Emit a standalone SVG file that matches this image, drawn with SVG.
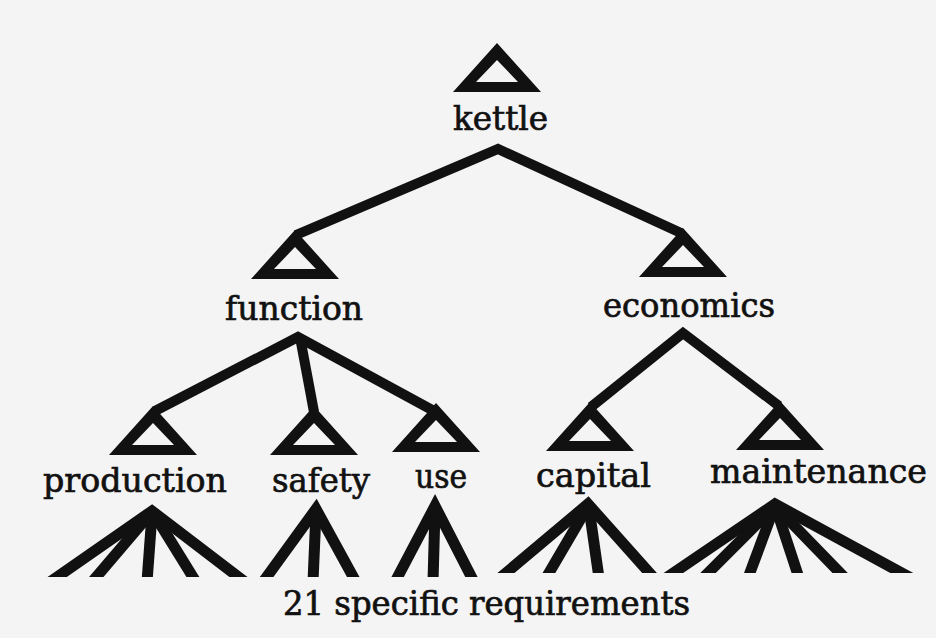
<svg xmlns="http://www.w3.org/2000/svg" xmlns:xlink="http://www.w3.org/1999/xlink" width="936" height="638" viewBox="0 0 936 638">
  <style>
    .bg { fill: #f4f4f4; }
    .tri { fill: #111; fill-rule: evenodd; }
    .lbl { font-family: "DejaVu Serif", "Liberation Serif", serif; font-size: 33px; fill: #111; stroke: #111; stroke-width: 0.7; text-anchor: start; }
    .edge { fill: none; stroke: #111; stroke-width: 10; stroke-linejoin: miter; stroke-miterlimit: 10; stroke-linecap: butt; }
    .leg { fill: none; stroke: #111; stroke-width: 11; stroke-linejoin: miter; stroke-miterlimit: 20; stroke-linecap: butt; }
  </style>
  <defs>
    <path id="tri" class="tri" d="M0,-49 L44,0 L-44,0 Z M0,-32 L21,-10 L-21,-10 Z"/>
    <clipPath id="cutA"><rect x="0" y="0" width="936" height="577"/></clipPath>
    <clipPath id="cutB"><rect x="0" y="0" width="936" height="573"/></clipPath>
  </defs>
  <rect class="bg" x="0" y="0" width="936" height="638"/>

  <g id="connectors">
    <polyline class="edge" points="296,235 498,149 681,233"/>
    <polyline class="edge" points="155,411 298,337 434,411"/>
    <line class="edge" x1="300" y1="337" x2="314" y2="412"/>
    <polyline class="edge" points="591,407 683,333 779,406"/>
    <g id="fan-production" clip-path="url(#cutA)">
      <polyline class="leg" points="50,582 152,511 245,582"/>
      <line class="leg" x1="150" y1="514" x2="92" y2="582"/>
      <line class="leg" x1="152" y1="514" x2="147" y2="582"/>
      <line class="leg" x1="154" y1="514" x2="196" y2="582"/>
    </g>
    <g id="fan-safety" clip-path="url(#cutA)">
      <polyline class="leg" points="263,582 316,509 356,582"/>
      <line class="leg" x1="316" y1="512" x2="313" y2="582"/>
    </g>
    <g id="fan-use" clip-path="url(#cutA)">
      <polyline class="leg" points="395,582 435,506 474,582"/>
      <line class="leg" x1="435" y1="510" x2="433" y2="582"/>
    </g>
    <g id="fan-capital" clip-path="url(#cutB)">
      <polyline class="leg" points="500,578 588,504 654,578"/>
      <line class="leg" x1="587" y1="508" x2="546" y2="578"/>
      <line class="leg" x1="589" y1="508" x2="599" y2="578"/>
    </g>
    <g id="fan-maintenance" clip-path="url(#cutB)">
      <polyline class="leg" points="666,578 775,504 911,578"/>
      <line class="leg" x1="773" y1="508" x2="703" y2="578"/>
      <line class="leg" x1="774" y1="508" x2="748" y2="578"/>
      <line class="leg" x1="776" y1="508" x2="799" y2="578"/>
      <line class="leg" x1="777" y1="508" x2="845" y2="578"/>
    </g>
  </g>

  <g id="kettle">
    <use xlink:href="#tri" href="#tri" x="497" y="92"/>
    <text class="lbl" x="453" y="130" textLength="95" lengthAdjust="spacingAndGlyphs">kettle</text>
  </g>
  <g id="function">
    <use xlink:href="#tri" href="#tri" x="295" y="279"/>
    <text class="lbl" x="225" y="320" textLength="138" lengthAdjust="spacingAndGlyphs">function</text>
  </g>
  <g id="economics">
    <use xlink:href="#tri" href="#tri" x="683" y="277"/>
    <text class="lbl" x="603" y="317" textLength="172" lengthAdjust="spacingAndGlyphs">economics</text>
  </g>
  <g id="production">
    <use xlink:href="#tri" href="#tri" x="153" y="455"/>
    <text class="lbl" x="43" y="492" textLength="184" lengthAdjust="spacingAndGlyphs">production</text>
  </g>
  <g id="safety">
    <use xlink:href="#tri" href="#tri" x="314" y="455"/>
    <text class="lbl" x="272" y="492" textLength="98" lengthAdjust="spacingAndGlyphs">safety</text>
  </g>
  <g id="use">
    <use xlink:href="#tri" href="#tri" x="436" y="452"/>
    <text class="lbl" x="415" y="488" textLength="52" lengthAdjust="spacingAndGlyphs">use</text>
  </g>
  <g id="capital">
    <use xlink:href="#tri" href="#tri" x="590" y="451"/>
    <text class="lbl" x="536" y="487" textLength="115" lengthAdjust="spacingAndGlyphs">capital</text>
  </g>
  <g id="maintenance">
    <use xlink:href="#tri" href="#tri" x="780" y="450"/>
    <text class="lbl" x="710" y="483" textLength="217" lengthAdjust="spacingAndGlyphs">maintenance</text>
  </g>
  <g id="requirements">
    <text class="lbl" x="283" y="615" textLength="407" lengthAdjust="spacingAndGlyphs">21 specific requirements</text>
  </g>
</svg>
